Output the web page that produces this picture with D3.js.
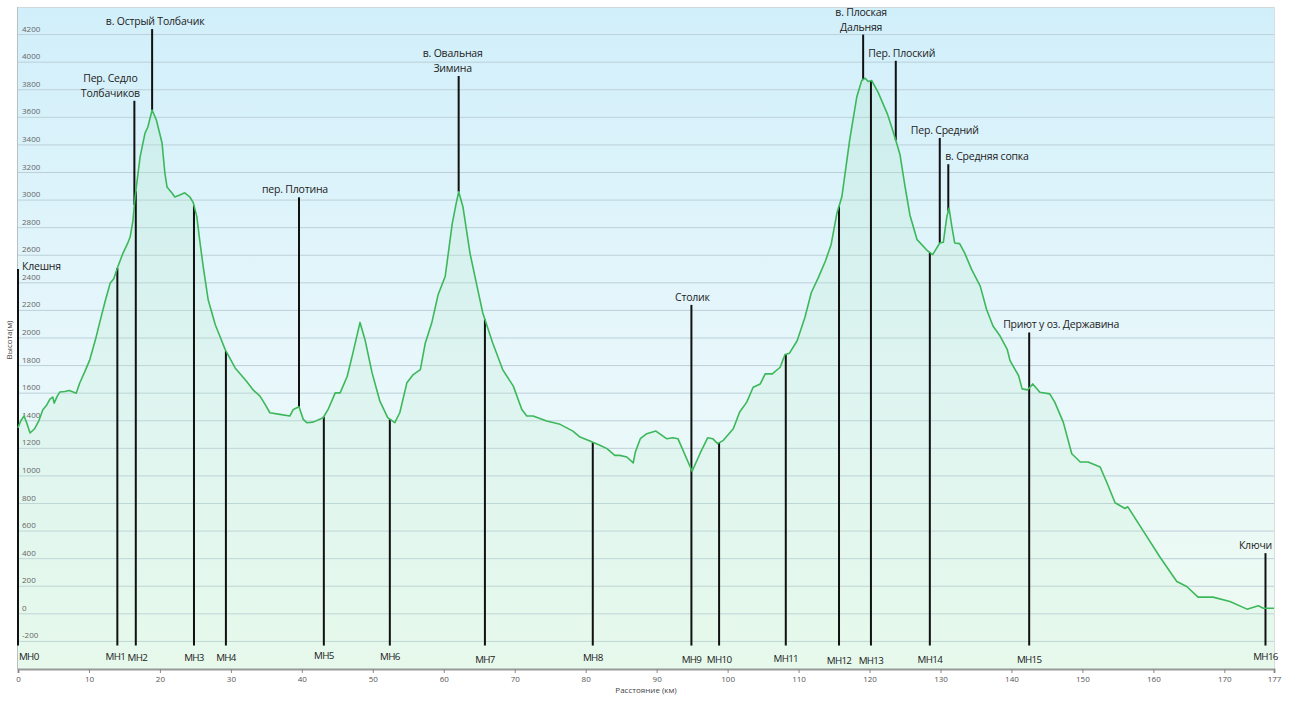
<!DOCTYPE html>
<html>
<head>
<meta charset="utf-8">
<script src="https://cdn.jsdelivr.net/npm/d3@7"></script>
<style>
  html, body { margin: 0; padding: 0; background: #ffffff; }
  svg { display: block; font-family: "Open Sans", "Noto Sans", sans-serif; }
</style>
</head>
<body>
<svg id="chart" width="1289" height="702"></svg>
<script>
// ---------------- DATA ----------------
const profileKm = [0,0.4,0.85,1.2,1.7,2.3,2.9,3.5,4.0,4.5,4.9,5.1,5.5,5.9,6.6,7.2,7.6,8.2,8.7,9.4,10.1,10.9,11.6,12.3,13.0,13.5,14.0,14.8,15.4,15.8,16.2,16.5,17.2,17.9,18.3,18.9,19.5,20.3,20.7,21.0,21.4,21.7,22.1,22.8,23.5,24.2,24.7,25.2,25.6,26.1,26.8,27.8,28.4,29.2,30.6,32.2,33.2,34.1,34.8,35.5,36.9,38.3,38.8,39.6,40.2,40.7,41.6,43.0,43.7,44.7,45.4,46.4,47.2,48.2,48.9,49.9,51.0,52.1,53.1,53.8,54.8,55.7,56.7,57.4,58.3,59.2,60.2,61.2,61.7,62.1,62.7,63.7,64.7,65.5,66.9,68.3,69.8,71.0,71.7,72.6,74.5,76.4,78.2,79.2,80.6,82.0,83.0,84.1,84.8,85.8,86.7,87.0,87.7,88.6,89.9,91.4,92.3,93.0,95.0,96.1,97.2,97.9,98.6,99.4,100.8,101.7,102.7,103.6,104.6,105.3,106.3,107.4,108.1,108.7,109.8,110.9,111.8,112.8,113.8,114.6,115.4,116.1,117.2,118.2,118.9,119.4,119.8,120.3,121.2,122.5,123.2,123.7,124.3,125.0,125.7,126.7,128.1,128.9,129.9,130.4,130.9,131.2,131.6,132.0,132.7,133.4,134.4,135.6,136.5,137.4,138.4,139.4,139.8,141.0,141.5,142.3,143.0,144.0,145.4,146.1,147.3,148.5,149.7,150.8,152.5,153.5,154.6,156.0,156.4,158.5,160.9,163.3,164.7,166.3,168.4,170.8,173.2,174.8,175.5,177.0];
const profileElev = [1350,1400,1435,1390,1311,1340,1395,1480,1510,1557,1572,1528,1575,1609,1612,1620,1612,1600,1674,1754,1840,1985,2130,2270,2399,2430,2507,2616,2680,2732,2850,3022,3312,3486,3530,3653,3581,3414,3196,3095,3070,3051,3022,3037,3053,3024,2981,2880,2711,2518,2277,2096,2020,1916,1783,1687,1620,1578,1520,1458,1446,1434,1482,1501,1410,1386,1390,1422,1482,1602,1602,1723,1892,2113,1988,1747,1542,1422,1386,1458,1675,1735,1771,1964,2108,2313,2446,2831,2964,3060,2952,2614,2373,2181,1964,1771,1651,1482,1434,1434,1398,1374,1325,1282,1253,1222,1198,1149,1149,1137,1094,1173,1270,1306,1325,1270,1277,1270,1034,1161,1277,1270,1234,1258,1342,1463,1535,1643,1667,1740,1740,1788,1880,1889,1980,2150,2330,2440,2560,2680,2904,3024,3434,3747,3867,3884,3860,3867,3783,3627,3518,3434,3328,3099,2890,2713,2636,2605,2689,2694,2882,2942,2810,2689,2684,2617,2496,2376,2207,2087,2014,1918,1836,1728,1631,1624,1667,1607,1595,1535,1390,1161,1101,1101,1065,945,805,764,776,607,414,234,198,121,121,89,34,58,41,41];

const markerNames = ["МН0","МН1","МН2","МН3","МН4","МН5","МН6","МН7","МН8","МН9","МН10","МН11","МН12","МН13","МН14","МН15","МН16"];
const markerKm    = [0,14.0,16.6,24.8,29.3,43.1,52.4,65.8,81.0,94.9,98.8,108.2,115.7,120.2,128.5,142.5,175.8];
const markerBase  = -230;   // metres, foot of the marker lines

const pointNames = [["Клешня"],["Пер. Седло","Толбачиков"],["в. Острый Толбачик"],["пер. Плотина"],["в. Овальная","Зимина"],["Столик"],["в. Плоская","Дальняя"],["Пер. Плоский"],["Пер. Средний"],["в. Средняя сопка"],["Приют у оз. Державина"],["Ключи"]];
const pointKm    = [0,16.4,18.9,39.6,62.1,94.9,119.1,123.7,129.9,131.1,142.5,175.8];
const pointTop   = [2500,3720,4240,3020,3900,2240,4200,4010,3450,3260,2040,440];

const xTicks = [0,10,20,30,40,50,60,70,80,90,100,110,120,130,140,150,160,170,177];
const yTicks = [-200,0,200,400,600,800,1000,1200,1400,1600,1800,2000,2200,2400,2600,2800,3000,3200,3400,3600,3800,4000,4200];

// ---------------- LAYOUT (label placement only) ----------------
const pointLabelLayout = [
  {dx: 4,  anchor: "start"},
  {dx: -24, anchor: "middle"},
  {dx: 3,  anchor: "middle"},
  {dx: -4, anchor: "middle"},
  {dx: -6, anchor: "middle"},
  {dx: 1,  anchor: "middle"},
  {dx: -2, anchor: "middle"},
  {dx: 6,  anchor: "middle"},
  {dx: 5,  anchor: "middle"},
  {dx: -3, anchor: "start"},
  {dx: -26, anchor: "start"},
  {dx: -10, anchor: "middle"}
];
const markerLabelDy = [0,0,1,1,1,-1,0,3,1,3,3,2,4,4,3,3,0];
const markerLabelDx = [0,-2,1.5,0,0,0,0,0,0,0,0,0,0,0,0,0,0];

// ---------------- CHART ----------------
const svg = d3.select("#chart");
const L = 18, R = 1274, T = 7, B = 669;
const x = d3.scaleLinear().domain([0, 177]).range([L, R]);
const y = d3.scaleLinear().domain([-400, 4400]).range([B, T]);

const defs = svg.append("defs");
const bg = defs.append("linearGradient").attr("id", "bg").attr("x1", 0).attr("y1", 0).attr("x2", 0).attr("y2", 1);
bg.append("stop").attr("offset", "0%").attr("stop-color", "#d1effa");
bg.append("stop").attr("offset", "55%").attr("stop-color", "#e8f7fb");
bg.append("stop").attr("offset", "100%").attr("stop-color", "#eefbf1");

const fillG = defs.append("linearGradient").attr("id", "fillg").attr("x1", 0).attr("y1", 0).attr("x2", 0).attr("y2", 1);
fillG.append("stop").attr("offset", "0%").attr("stop-color", "#a6e3bb").attr("stop-opacity", 0.22);
fillG.append("stop").attr("offset", "100%").attr("stop-color", "#c8f0d4").attr("stop-opacity", 0.2);

svg.append("rect").attr("x", L).attr("y", T).attr("width", R - L).attr("height", B - T).attr("fill", "url(#bg)");

// gridlines
svg.append("g").selectAll("line").data(yTicks).join("line")
  .attr("x1", L).attr("x2", R)
  .attr("y1", d => y(d)).attr("y2", d => y(d))
  .attr("stroke", "#bdd0d8").attr("stroke-width", 1);

// plot border
svg.append("line").attr("x1", L).attr("x2", R).attr("y1", T + 0.5).attr("y2", T + 0.5).attr("stroke", "#d0d8dc");
svg.append("line").attr("x1", R + 0.5).attr("x2", R + 0.5).attr("y1", T).attr("y2", B).attr("stroke", "#d8dee0");
svg.append("line").attr("x1", L - 0.5).attr("x2", L - 0.5).attr("y1", T).attr("y2", B).attr("stroke", "#b8c0c4");

const profile = profileKm.map((k, i) => ({k, e: profileElev[i]}));

// area
svg.append("path").datum(profile)
  .attr("d", d3.area().x(d => x(d.k)).y0(y(-400)).y1(d => y(d.e)))
  .attr("fill", "url(#fillg)");

// y tick labels
svg.append("g").selectAll("text").data(yTicks).join("text")
  .attr("x", 22).attr("y", d => y(d) - 3)
  .attr("font-size", 8).attr("fill", "#666")
  .text(d => d);

// elevation interpolation
const bis = d3.bisector(d => d.k).left;
function elevAt(k) {
  let i = bis(profile, k);
  if (i <= 0) return profile[0].e;
  if (i >= profile.length) return profile[profile.length - 1].e;
  const a = profile[i - 1], b = profile[i];
  const t = (k - a.k) / (b.k - a.k);
  return a.e + t * (b.e - a.e);
}

// marker lines (bottom to profile)
const mg = svg.append("g");
markerKm.forEach((k, i) => {
  mg.append("line")
    .attr("x1", x(k)).attr("x2", x(k))
    .attr("y1", y(markerBase)).attr("y2", y(elevAt(k)))
    .attr("stroke", "#111").attr("stroke-width", 2);
  mg.append("text")
    .attr("x", (i === 0 ? x(k) + 1 : x(k)) + markerLabelDx[i])
    .attr("y", y(markerBase) + 14.5 + markerLabelDy[i])
    .attr("text-anchor", i === 0 ? "start" : "middle")
    .attr("font-size", 9.8).attr("letter-spacing", -0.7).attr("fill", "#222")
    .text(markerNames[i]);
});

// named point lines (profile to label)
const pg = svg.append("g");
pointKm.forEach((k, i) => {
  const top = y(pointTop[i]);
  pg.append("line")
    .attr("x1", x(k)).attr("x2", x(k))
    .attr("y1", y(elevAt(k))).attr("y2", top)
    .attr("stroke", "#111").attr("stroke-width", 2);
  const lay = pointLabelLayout[i];
  const lines = pointNames[i];
  const t = pg.append("text")
    .attr("text-anchor", lay.anchor)
    .attr("font-size", 10.5).attr("letter-spacing", -0.2).attr("fill", "#222");
  lines.forEach((ln, j) => {
    t.append("tspan")
      .attr("x", x(k) + lay.dx)
      .attr("y", i === 0 ? top + 1 : top - 4 - (lines.length - 1 - j) * 15)
      .text(ln);
  });
});

// profile line
svg.append("path").datum(profile)
  .attr("d", d3.line().x(d => x(d.k)).y(d => y(d.e)))
  .attr("fill", "none").attr("stroke", "#3cb85a").attr("stroke-width", 1.6)
  .attr("stroke-linejoin", "round");

// x axis
const xa = svg.append("g").attr("transform", `translate(0,${B})`)
  .call(d3.axisBottom(x).tickValues(xTicks).tickSize(4).tickPadding(3).tickFormat(d => d));
xa.select(".domain").attr("stroke", "#999").attr("stroke-width", 2);
xa.selectAll(".tick line").attr("stroke", "#888");
xa.selectAll(".tick text").attr("font-size", 8).attr("fill", "#555").attr("font-family", "\"Open Sans\", sans-serif");

// axis titles
svg.append("text").attr("x", 646).attr("y", 693).attr("text-anchor", "middle")
  .attr("font-size", 8).attr("fill", "#444").text("Расстояние  (км)");
svg.append("text").attr("transform", "translate(12,340) rotate(-90)").attr("text-anchor", "middle")
  .attr("font-size", 8).attr("fill", "#444").text("Высота(м)");
</script>
</body>
</html>
